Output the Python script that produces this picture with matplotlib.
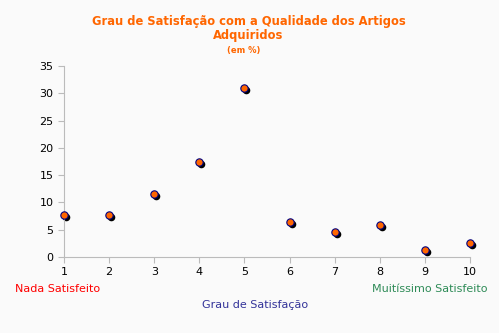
import matplotlib
matplotlib.use("Agg")
import matplotlib.pyplot as plt
import matplotlib.transforms as mtransforms

grau = [1, 2, 3, 4, 5, 6, 7, 8, 9, 10]
percent = [7.7, 7.7, 11.5, 17.4, 31.0, 6.4, 4.6, 5.9, 1.3, 2.6]
yticks = [0, 5, 10, 15, 20, 25, 30, 35]

W, H = 499, 333
fig = plt.figure(figsize=(W/100, H/100), dpi=100, facecolor="#FAFAFA")
ax = fig.add_axes([64/W, (H-257)/H, (470-64)/W, (257-66)/H], facecolor="#FAFAFA")

shadow = ax.transData + mtransforms.ScaledTranslation(2/100, -2/100, fig.dpi_scale_trans)
ax.scatter(grau, percent, s=30, marker="o", color="black", transform=shadow, zorder=2, linewidths=0)
ax.scatter(grau, percent, s=28, marker="o", color="#FF6600", edgecolors="#000080", linewidths=0.8, zorder=3)

ax.set_xlim(1, 10)
ax.set_ylim(0, 35)
ax.set_xticks(grau)
ax.set_yticks(yticks)
for s in ["top", "right"]:
    ax.spines[s].set_visible(False)
for s in ["left", "bottom"]:
    ax.spines[s].set_color("#BBBBBB")
ax.tick_params(axis="both", direction="out", length=4, color="#BBBBBB", labelsize=8, labelcolor="black")
ax.tick_params(axis="x", pad=3)
for c in ax.collections:
    c.set_clip_on(False)

fig.text(249/W, 1-21/H, "Grau de Satisfação com a Qualidade dos Artigos", color="#FF6600",
         fontsize=8.3, fontweight="bold", ha="center", va="center")
fig.text(248/W, 1-36/H, "Adquiridos", color="#FF6600", fontsize=8.3, fontweight="bold", ha="center", va="center")
fig.text(244/W, 1-50/H, "(em %)", color="#FF6600", fontsize=6, fontweight="bold", ha="center", va="center")

fig.text(15/W, 1-289/H, "Nada Satisfeito", color="#FF0000", fontsize=8, ha="left", va="center")
fig.text(487/W, 1-289/H, "Muitíssimo Satisfeito", color="#2E8B57", fontsize=8, ha="right", va="center")
fig.text(255/W, 1-305/H, "Grau de Satisfação", color="#333399", fontsize=8, ha="center", va="center")

fig.savefig("out.png", dpi=100, facecolor=fig.get_facecolor())
